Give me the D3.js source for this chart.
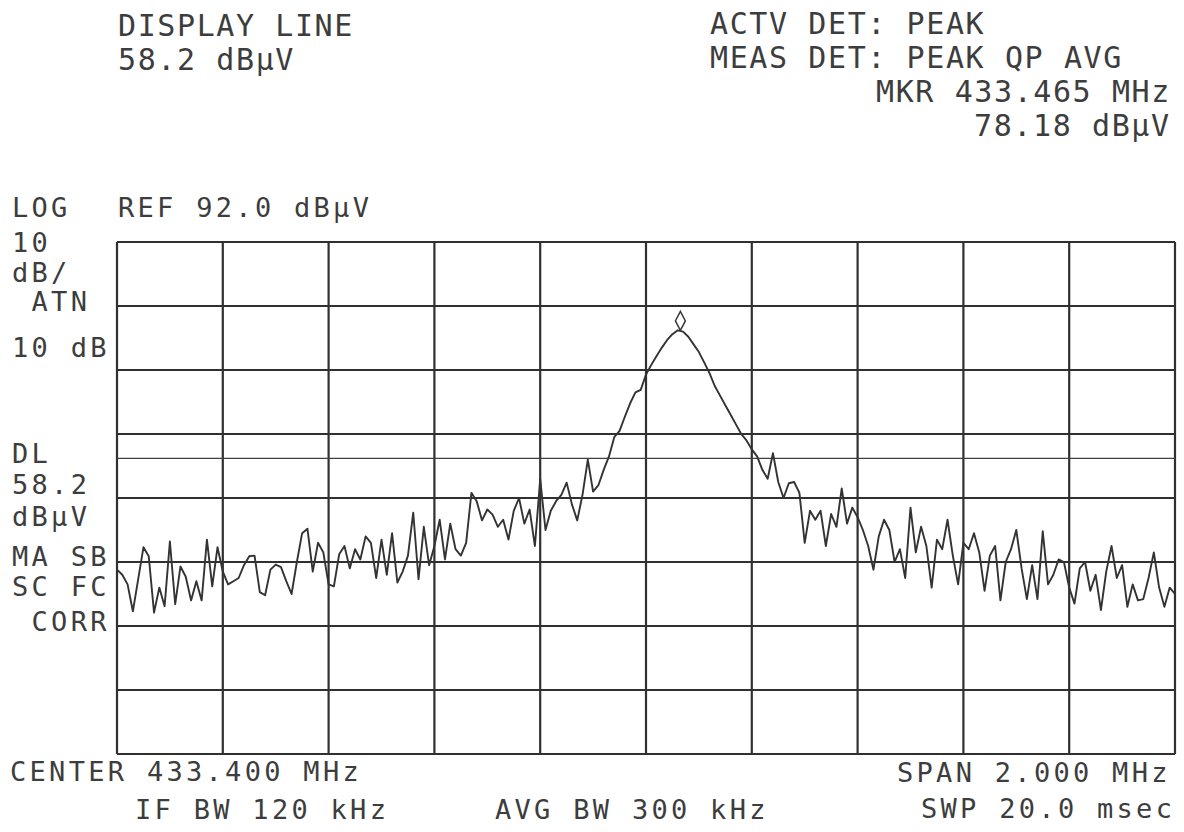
<!DOCTYPE html>
<html>
<head>
<meta charset="utf-8">
<script src="https://cdn.jsdelivr.net/npm/d3@7"></script>
<style>
  html, body { margin: 0; padding: 0; background: #fff; }
  text { font-family: 'DejaVu Sans Mono', monospace; fill: #3d3d3d; }
  .big { font-size: 30px; letter-spacing: 1.6px; }
  .small { font-size: 27px; letter-spacing: 3.3px; }
</style>
</head>
<body>
<div id="chart"></div>
<script>
// analyzer settings
const centerFreq = 433.4 // MHz
const spanFreq = 2.0 // MHz
const refLevel = 92.0 // dBuV
const dbPerDiv = 10
const xDivs = 10
const yDivs = 8
const displayLine = 58.2
const markerFreq = 433.465
const markerLevel = 78.18

// trace levels (dBuV), one reading every 10 kHz from 432.4 to 434.4 MHz
const traceLevels = [
  40.8, 40.0, 38.5, 34.3, 39.3, 44.3, 42.9, 34.1, 38.0, 35.1, 45.2, 35.4, 41.3, 39.7, 36.0, 39.0, 36.0, 45.5, 38.2, 44.3,
  40.5, 38.5, 39.0, 39.5, 41.5, 42.9, 43.0, 37.3, 36.8, 40.8, 41.6, 41.2, 39.0, 37.0, 42.0, 46.5, 47.2, 40.5, 45.0, 43.5,
  38.5, 38.2, 43.2, 44.5, 41.0, 44.0, 42.4, 46.0, 45.0, 39.5, 45.5, 40.0, 46.5, 38.8, 40.5, 43.0, 49.7, 39.3, 47.5, 41.5,
  44.5, 48.6, 42.4, 48.0, 44.0, 43.0, 45.0, 52.8, 51.5, 48.5, 50.2, 49.4, 47.5, 48.6, 45.5, 50.0, 52.0, 48.0, 50.2, 44.5,
  55.0, 47.0, 50.0, 51.5, 52.5, 54.4, 51.0, 48.5, 52.5, 58.0, 53.0, 54.0, 56.4, 58.5, 61.5, 62.5, 64.7, 66.8, 68.5, 68.9,
  71.3, 72.8, 74.2, 75.5, 76.7, 77.6, 78.2, 78.0, 77.2, 76.0, 74.8, 73.2, 71.5, 69.5, 68.0, 66.5, 65.0, 63.5, 62.0, 61.0,
  59.6, 58.5, 56.4, 55.0, 59.0, 54.5, 52.0, 54.3, 54.5, 52.8, 45.0, 50.0, 48.6, 50.0, 44.5, 49.5, 47.5, 53.5, 48.0, 50.5,
  49.0, 47.0, 44.5, 40.8, 46.0, 48.6, 47.0, 42.0, 44.0, 39.5, 50.5, 43.5, 47.5, 44.5, 38.0, 45.5, 44.0, 48.6, 43.0, 38.5,
  45.0, 44.0, 46.5, 43.5, 37.5, 43.0, 44.5, 36.0, 42.0, 44.0, 47.0, 41.0, 36.2, 41.5, 36.2, 46.8, 38.5, 40.0, 42.4, 42.0,
  38.0, 35.5, 41.0, 42.0, 37.5, 40.0, 34.5, 40.5, 44.5, 39.5, 41.5, 35.0, 38.5, 36.0, 36.2, 39.5, 43.5, 38.0, 35.0, 38.0,
  37.0
]

// annotation text
const headerLeft = ['DISPLAY LINE', '58.2 dBµV']
const headerRight = ['ACTV DET: PEAK', 'MEAS DET: PEAK QP AVG', 'MKR 433.465 MHz', '78.18 dBµV']
const sideLabels = ['LOG', '10', 'dB/', ' ATN', '10 dB', 'DL', '58.2', 'dBµV', 'MA SB', 'SC FC', ' CORR']
const refLabel = 'REF 92.0 dBµV'
const footerLabels = ['CENTER 433.400 MHz', 'SPAN 2.000 MHz', 'IF BW 120 kHz', 'AVG BW 300 kHz', 'SWP 20.0 msec']

const margin = {
  top: 242,
  right: 9,
  bottom: 78,
  left: 117
}

const width = 1184 - margin.left - margin.right
const height = 832 - margin.top - margin.bottom

const root = d3
  .select('#chart')
  .append('svg')
  .attr('width', 1184)
  .attr('height', 832)

root.append('rect').attr('width', 1184).attr('height', 832).attr('fill', '#fff')

const svg = root
  .append('g')
  .attr('transform', 'translate(' + margin.left + ',' + margin.top + ')')

const freqStart = centerFreq - spanFreq / 2
const freqEnd = centerFreq + spanFreq / 2
const bottomLevel = refLevel - dbPerDiv * yDivs

const xPositionScale = d3.scaleLinear().domain([freqStart, freqEnd]).range([0, width])
const yPositionScale = d3.scaleLinear().domain([bottomLevel, refLevel]).range([height, 0])

// graticule
const xGrid = d3.range(xDivs + 1).map(i => freqStart + i * spanFreq / xDivs)
const yGrid = d3.range(yDivs + 1).map(i => bottomLevel + i * dbPerDiv)

svg.selectAll('.h-grid')
  .data(yGrid)
  .enter()
  .append('line')
  .attr('class', 'h-grid')
  .attr('x1', 0)
  .attr('x2', width)
  .attr('y1', d => yPositionScale(d))
  .attr('y2', d => yPositionScale(d))
  .attr('stroke', '#303030')
  .attr('stroke-width', 2.2)

svg.selectAll('.v-grid')
  .data(xGrid)
  .enter()
  .append('line')
  .attr('class', 'v-grid')
  .attr('x1', d => xPositionScale(d))
  .attr('x2', d => xPositionScale(d))
  .attr('y1', 0)
  .attr('y2', height)
  .attr('stroke', '#303030')
  .attr('stroke-width', 2.2)

// display line
svg.append('line')
  .attr('x1', 0)
  .attr('x2', width)
  .attr('y1', yPositionScale(displayLine))
  .attr('y2', yPositionScale(displayLine))
  .attr('stroke', '#404040')
  .attr('stroke-width', 1.2)

// trace
const freqStep = spanFreq / (traceLevels.length - 1)
const line = d3.line()
  .x((d, i) => xPositionScale(freqStart + i * freqStep))
  .y(d => yPositionScale(d))

svg.append('path')
  .datum(traceLevels)
  .attr('d', line)
  .attr('fill', 'none')
  .attr('stroke', '#333')
  .attr('stroke-width', 1.9)
  .attr('stroke-linejoin', 'round')

// marker diamond sitting on the peak
const mx = xPositionScale(markerFreq)
const my = yPositionScale(markerLevel)
svg.append('path')
  .attr('d', 'M' + mx + ',' + my + 'l5,-9.5l-5,-9.5l-5,9.5z')
  .attr('fill', '#fff')
  .attr('stroke', '#3a3a3a')
  .attr('stroke-width', 1.5)

// text
function label(txt, x, y, cls) {
  root.append('text')
    .attr('class', cls)
    .attr('x', x)
    .attr('y', y)
    .attr('xml:space', 'preserve')
    .style('white-space', 'pre')
    .text(txt)
}

label(headerLeft[0], 118, 36, 'big')
label(headerLeft[1], 118, 70, 'big')

const rightX = [710, 710, 876, 974]
const rightY = [34, 68, 102, 136]
headerRight.forEach((t, i) => label(t, rightX[i], rightY[i], 'big'))

label(refLabel, 118, 217, 'small')

const sideY = [217, 252, 282, 311, 357, 463, 494, 526, 566, 596, 631]
sideLabels.forEach((t, i) => label(t, 12, sideY[i], 'small'))

const footX = [10, 897, 135, 495, 921]
const footY = [781, 782, 819, 819, 818]
footerLabels.forEach((t, i) => label(t, footX[i], footY[i], 'small'))
</script>
</body>
</html>
